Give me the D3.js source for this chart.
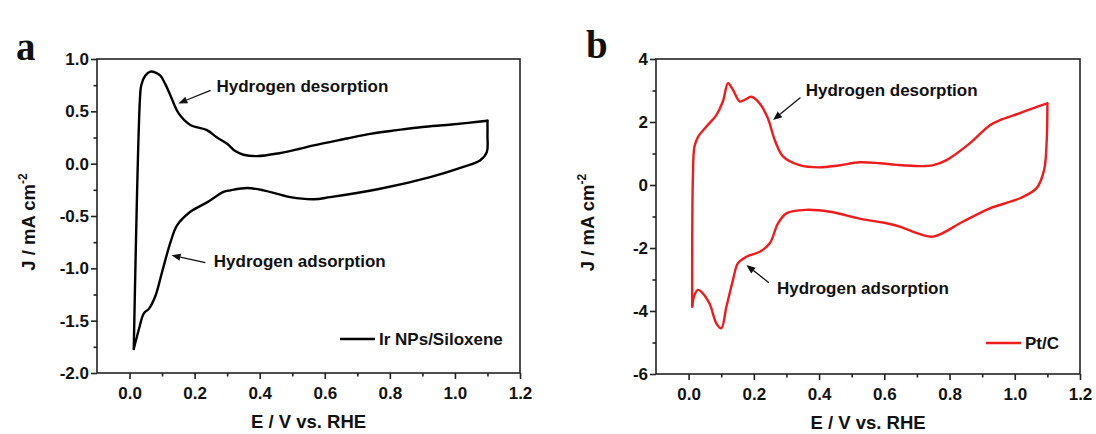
<!DOCTYPE html>
<html>
<head>
<meta charset="utf-8">
<script src="https://cdn.jsdelivr.net/npm/d3@7"></script>
<style>
  body { margin: 0; background: #ffffff; }
  text { font-family: "Liberation Sans", Arial, sans-serif; font-weight: bold; fill: #111; }
</style>
</head>
<body>
<svg id="chart" width="1096" height="434"></svg>
<script>
// ---- Ir NPs/Siloxene cyclic voltammogram ----
// anodic sweep (0.013 V -> 1.1 V)
const irAnodicE = [0.013, 0.032, 0.036, 0.048, 0.064, 0.08, 0.095, 0.11, 0.126, 0.151, 0.187, 0.238, 0.269, 0.30, 0.325, 0.35, 0.392, 0.46, 0.52, 0.566, 0.668, 0.74, 0.822, 0.90, 0.975, 1.04, 1.1];
const irAnodicJ = [-1.77, 0.62, 0.75, 0.84, 0.88, 0.87, 0.84, 0.76, 0.65, 0.48, 0.37, 0.32, 0.25, 0.19, 0.12, 0.085, 0.072, 0.10, 0.14, 0.175, 0.24, 0.285, 0.32, 0.35, 0.37, 0.39, 0.41];
// cathodic sweep (1.1 V -> 0.013 V)
const irCathodicE = [1.1, 1.1, 1.098, 1.077, 1.026, 0.924, 0.77, 0.617, 0.566, 0.494, 0.412, 0.361, 0.31, 0.289, 0.238, 0.187, 0.146, 0.126, 0.10, 0.08, 0.06, 0.044, 0.029, 0.013];
const irCathodicJ = [0.41, 0.27, 0.11, 0.03, -0.03, -0.128, -0.24, -0.32, -0.34, -0.32, -0.255, -0.233, -0.255, -0.27, -0.37, -0.46, -0.59, -0.75, -1.035, -1.26, -1.385, -1.43, -1.58, -1.77];

// ---- Pt/C cyclic voltammogram ----
const ptAnodicE = [0.011, 0.013, 0.018, 0.029, 0.054, 0.085, 0.105, 0.121, 0.136, 0.157, 0.175, 0.192, 0.218, 0.243, 0.264, 0.29, 0.34, 0.40, 0.46, 0.525, 0.586, 0.637, 0.709, 0.75, 0.791, 0.862, 0.924, 0.96, 1.016, 1.06, 1.1];
const ptAnodicJ = [-3.86, 0.2, 1.22, 1.53, 1.85, 2.22, 2.65, 3.23, 3.02, 2.65, 2.72, 2.8, 2.59, 2.12, 1.43, 0.9, 0.63, 0.56, 0.62, 0.72, 0.69, 0.64, 0.6, 0.63, 0.79, 1.32, 1.9, 2.08, 2.28, 2.45, 2.59];
const ptCathodicE = [1.1, 1.1, 1.098, 1.09, 1.067, 1.016, 0.924, 0.842, 0.75, 0.70, 0.65, 0.60, 0.535, 0.433, 0.36, 0.30, 0.274, 0.249, 0.218, 0.177, 0.151, 0.136, 0.116, 0.10, 0.085, 0.064, 0.039, 0.029, 0.018, 0.011];
const ptCathodicJ = [2.59, 2.4, 1.43, 0.48, -0.1, -0.42, -0.74, -1.16, -1.64, -1.53, -1.33, -1.2, -1.09, -0.85, -0.79, -0.9, -1.22, -1.85, -2.12, -2.28, -2.49, -3.02, -3.86, -4.55, -4.39, -3.76, -3.39, -3.33, -3.49, -3.86];

// ---- axis ticks ----
const xMajorTicks = [0.0, 0.2, 0.4, 0.6, 0.8, 1.0, 1.2];
const xMinorTicks = [0.1, 0.3, 0.5, 0.7, 0.9, 1.1];
const irYMajorTicks = [-2.0, -1.5, -1.0, -0.5, 0.0, 0.5, 1.0];
const irYMinorTicks = [-1.75, -1.25, -0.75, -0.25, 0.25, 0.75];
const ptYMajorTicks = [-6, -4, -2, 0, 2, 4];
const ptYMinorTicks = [-5, -3, -1, 1, 3];

// ---- annotations: label text, label anchor (E, J), arrow tail (E, J), arrow tip (E, J) ----
const annotationLabels = ["Hydrogen desorption", "Hydrogen adsorption"];
const irLabelAt  = [[0.267, 0.74], [0.259, -0.93]];
const irArrowFrom = [[0.249, 0.70], [0.233, -0.945]];
const irArrowTo   = [[0.15, 0.576], [0.129, -0.876]];
const ptLabelAt  = [[0.359, 3.02], [0.271, -3.28]];
const ptArrowFrom = [[0.343, 2.78], [0.246, -3.10]];
const ptArrowTo   = [[0.259, 2.06], [0.177, -2.54]];

const svg = d3.select("#chart");

const minus = s => s.replace("\u2212", "-");

function drawPanel(cfg) {
  const g = svg.append("g");
  const x = d3.scaleLinear().domain([-0.1, 1.2]).range([cfg.left, cfg.right]);
  const y = d3.scaleLinear().domain(cfg.yDomain).range([cfg.bottom, cfg.top]);

  // each sweep is its own smooth path, so the switching potentials stay sharp
  const line = d3.line()
    .x(d => x(d[0])).y(d => y(d[1]))
    .curve(d3.curveCatmullRom.alpha(0.5));
  cfg.sweeps.forEach(([E, J]) => {
    g.append("path")
      .attr("d", line(E.map((e, i) => [e, J[i]])))
      .attr("fill", "none")
      .attr("stroke", cfg.color)
      .attr("stroke-width", 2.4)
      .attr("stroke-linejoin", "round")
      .attr("stroke-linecap", "round");
  });

  // frame
  g.append("rect")
    .attr("x", cfg.left).attr("y", cfg.top)
    .attr("width", cfg.right - cfg.left).attr("height", cfg.bottom - cfg.top)
    .attr("fill", "none").attr("stroke", "#222").attr("stroke-width", 1.6);

  // axes
  const styleAxis = sel => {
    sel.select(".domain").remove();
    sel.selectAll("line").attr("stroke", "#222").attr("stroke-width", 1.6);
    sel.selectAll("text").style("font-size", "17px").attr("fill", "#111");
  };
  g.append("g").attr("transform", `translate(0,${cfg.bottom})`)
    .call(d3.axisBottom(x).tickValues(xMajorTicks).tickSize(6).tickPadding(8)
      .tickFormat(d => minus(d3.format(".1f")(d))))
    .call(styleAxis);
  g.append("g").attr("transform", `translate(0,${cfg.bottom})`)
    .call(d3.axisBottom(x).tickValues(xMinorTicks).tickSize(3.5).tickFormat(""))
    .call(styleAxis);
  g.append("g").attr("transform", `translate(${cfg.left},0)`)
    .call(d3.axisLeft(y).tickValues(cfg.yMajor).tickSize(6).tickPadding(2)
      .tickFormat(d => minus(d3.format(cfg.yFormat)(d))))
    .call(styleAxis);
  g.append("g").attr("transform", `translate(${cfg.left},0)`)
    .call(d3.axisLeft(y).tickValues(cfg.yMinor).tickSize(3.5).tickFormat(""))
    .call(styleAxis);

  // axis titles
  g.append("text")
    .attr("x", (cfg.left + cfg.right) / 2).attr("y", cfg.bottom + 55)
    .attr("text-anchor", "middle").style("font-size", "18.5px")
    .text("E / V vs. RHE");
  const yt = g.append("text")
    .attr("transform", `translate(${cfg.left - 62},${(cfg.top + cfg.bottom) / 2 + 6}) rotate(-90)`)
    .attr("text-anchor", "middle").style("font-size", "18.5px");
  yt.append("tspan").text("J / mA cm");
  yt.append("tspan").attr("dy", -8).style("font-size", "12px").text("-2");

  // panel letter
  g.append("text")
    .attr("x", cfg.letterX).attr("y", cfg.letterY)
    .style("font-family", "'Liberation Serif', 'Times New Roman', serif")
    .style("font-size", "39px")
    .text(cfg.letter);

  // annotations with arrows
  annotationLabels.forEach((label, i) => {
    const [x0, y0] = [x(cfg.from[i][0]), y(cfg.from[i][1])];
    const [x1, y1] = [x(cfg.to[i][0]), y(cfg.to[i][1])];
    const ang = Math.atan2(y1 - y0, x1 - x0);
    const hl = 9, hw = 3.6;
    const bx = x1 - hl * Math.cos(ang), by = y1 - hl * Math.sin(ang);
    g.append("line")
      .attr("x1", x0).attr("y1", y0).attr("x2", bx).attr("y2", by)
      .attr("stroke", "#111").attr("stroke-width", 1.3);
    g.append("path")
      .attr("d", `M${x1},${y1}L${bx + hw * Math.sin(ang)},${by - hw * Math.cos(ang)}L${bx - hw * Math.sin(ang)},${by + hw * Math.cos(ang)}Z`)
      .attr("fill", "#111");
    g.append("text")
      .attr("x", x(cfg.labelAt[i][0])).attr("y", y(cfg.labelAt[i][1]))
      .attr("dy", "0.35em").style("font-size", "17px")
      .text(label);
  });

  // legend
  g.append("line")
    .attr("x1", cfg.legendX).attr("x2", cfg.legendX + 35)
    .attr("y1", cfg.legendY).attr("y2", cfg.legendY)
    .attr("stroke", cfg.color).attr("stroke-width", 2.4);
  g.append("text")
    .attr("x", cfg.legendX + 39).attr("y", cfg.legendY).attr("dy", "0.35em")
    .style("font-size", "17px").text(cfg.name);
}

drawPanel({
  letter: "a", letterX: 16, letterY: 60,
  left: 97, right: 520, top: 59, bottom: 373,
  yDomain: [-2.0, 1.0], yMajor: irYMajorTicks, yMinor: irYMinorTicks, yFormat: ".1f",
  sweeps: [[irAnodicE, irAnodicJ], [irCathodicE, irCathodicJ]],
  color: "#000000", name: "Ir NPs/Siloxene",
  labelAt: irLabelAt, from: irArrowFrom, to: irArrowTo,
  legendX: 340, legendY: 339
});

drawPanel({
  letter: "b", letterX: 586, letterY: 58,
  left: 656, right: 1080, top: 59, bottom: 374,
  yDomain: [-6, 4], yMajor: ptYMajorTicks, yMinor: ptYMinorTicks, yFormat: "d",
  sweeps: [[ptAnodicE, ptAnodicJ], [ptCathodicE, ptCathodicJ]],
  color: "#ee1c1c", name: "Pt/C",
  labelAt: ptLabelAt, from: ptArrowFrom, to: ptArrowTo,
  legendX: 986, legendY: 343
});
</script>
</body>
</html>
